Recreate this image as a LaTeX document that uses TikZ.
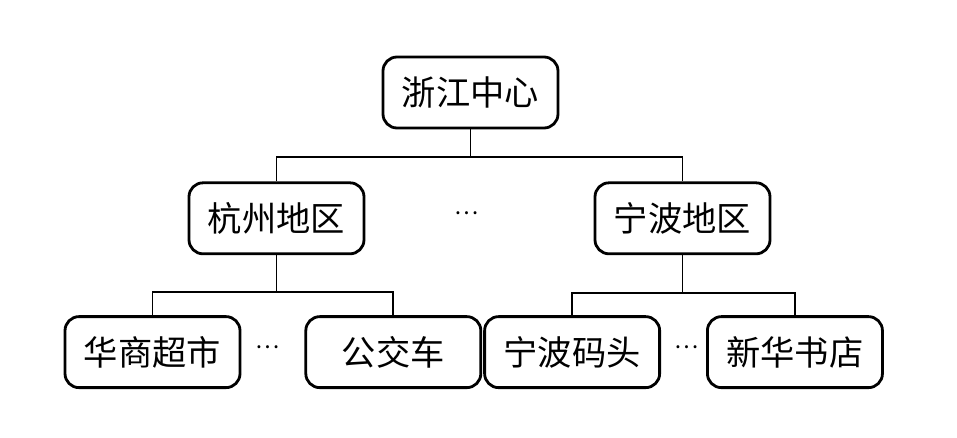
\documentclass[tikz,border=0pt]{standalone}
\usepackage{fontspec}
\newfontfamily\cjk{Noto Sans CJK SC}
\usetikzlibrary{positioning}

\begin{document}
\begin{tikzpicture}[node distance=1.04cm,
	box/.style={draw, line width=1.6pt, rounded corners=0.28cm, minimum width=3.5cm, minimum height=1.42cm, font=\cjk\fontsize{19.5}{23}\selectfont},
	dots/.style={font=\cjk\fontsize{13}{16}\selectfont, inner sep=0pt},
	line/.style={line width=1.1pt}]
			\useasboundingbox (0,0) rectangle (19.14,-8.74);
			% Nodes
			\node[box] (zj) at (9.41,-1.85) {浙江中心};
			\node[box, below=of zj, xshift=-3.88cm] (hz) {杭州地区};
			\node[box, below=of zj, xshift=4.24cm] (nb) {宁波地区};
			\node[box, below=1.2cm of hz, xshift=-2.48cm] (hs) {华商超市};
			\node[box, right=1.26cm of hs] (gj) {公交车};
			\node[box, right=0.02cm of gj] (nbmt) {宁波码头};
			\node[box, right=0.9cm of nbmt] (xh) {新华书店};
			
			% Ellipses
			\node[dots] (d1) at (9.34,-4.26) {…};
			\node[dots] (d2) at (5.36,-6.94) {…};
			\node[dots] (d3) at (13.74,-6.94) {…};
			
			% Lines
			\draw[line] (zj.south) -- ++(0,-0.56) -| (hz.north);
			\draw[line] (zj.south) -- ++(0,-0.56) -| (nb.north);
			\draw[line] (hz.south) -- ++(0,-0.74) -| (hs.north);
			\draw[line] (hz.south) -- ++(0,-0.74) -| (gj.north);
			\draw[line] (nb.south) -- ++(0,-0.76) -| (nbmt.north);
			\draw[line] (nb.south) -- ++(0,-0.76) -| (xh.north);
		\end{tikzpicture}
\end{document}
